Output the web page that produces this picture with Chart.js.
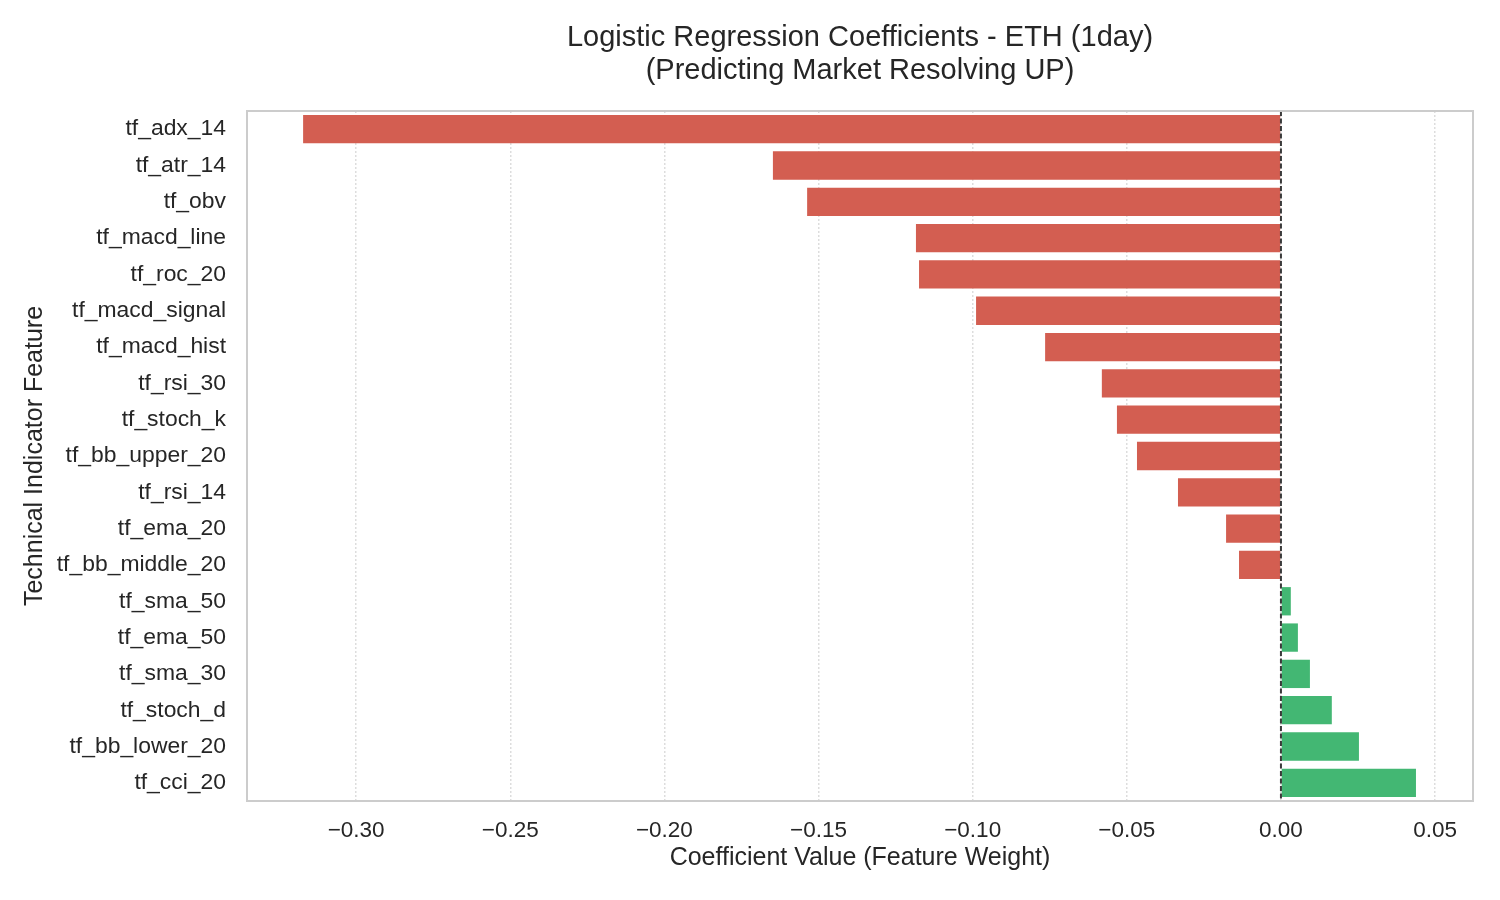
<!DOCTYPE html>
<html>
<head>
<meta charset="utf-8">
<script src="https://cdn.jsdelivr.net/npm/chart.js@4.4.1/dist/chart.umd.min.js"></script>
<style>
  html, body { margin: 0; padding: 0; background: #ffffff; }
  #wrap { width: 1500px; height: 900px; position: relative; }
</style>
</head>
<body>
<div id="wrap"><canvas id="coefChart"></canvas></div>
<script>
// feature names, top to bottom
var features = [
  'tf_adx_14', 'tf_atr_14', 'tf_obv', 'tf_macd_line', 'tf_roc_20',
  'tf_macd_signal', 'tf_macd_hist', 'tf_rsi_30', 'tf_stoch_k', 'tf_bb_upper_20',
  'tf_rsi_14', 'tf_ema_20', 'tf_bb_middle_20', 'tf_sma_50', 'tf_ema_50',
  'tf_sma_30', 'tf_stoch_d', 'tf_bb_lower_20', 'tf_cci_20'
];

// coefficients
var coefficients = [
  -0.3172, -0.1648, -0.1537, -0.1184, -0.1174,
  -0.0989, -0.0765, -0.0581, -0.0532, -0.0467,
  -0.0334, -0.0178, -0.0136, 0.0032, 0.0055,
  0.0094, 0.0165, 0.0253, 0.0438
];

var xTickValues = [-0.30, -0.25, -0.20, -0.15, -0.10, -0.05, 0.00, 0.05];
var xMin = -0.3354;
var xMax = 0.0623;

var titleLines = ['Logistic Regression Coefficients - ETH (1day)', '(Predicting Market Resolving UP)'];

var negColor = '#d35e51';
var posColor = '#43b773';
var textColor = '#262626';
var fontFamily = '"Liberation Sans", Arial, sans-serif';

var barColors = coefficients.map(function(v) { return v < 0 ? negColor : posColor; });

// title centred over the plot area (like matplotlib does)
var titlePlugin = {
  id: 'plotTitle',
  afterDraw: function(chart) {
    var ctx = chart.ctx;
    var area = chart.chartArea;
    var cx = (area.left + area.right) / 2;
    ctx.save();
    ctx.fillStyle = textColor;
    ctx.font = '29px ' + fontFamily;
    ctx.textAlign = 'center';
    ctx.textBaseline = 'middle';
    ctx.fillText(titleLines[0], cx, 38);
    ctx.fillText(titleLines[1], cx, 71);
    ctx.restore();
  }
};

// frame around the plot + dashed zero line
var framePlugin = {
  id: 'frame',
  afterDatasetsDraw: function(chart) {
    var ctx = chart.ctx;
    var area = chart.chartArea;
    var zx = chart.scales.x.getPixelForValue(0);

    ctx.save();
    ctx.strokeStyle = '#3a3a3a';
    ctx.lineWidth = 2;
    ctx.setLineDash([5, 2.5]);
    ctx.beginPath();
    ctx.moveTo(zx, area.top);
    ctx.lineTo(zx, area.bottom);
    ctx.stroke();

    ctx.setLineDash([]);
    ctx.strokeStyle = '#cccccc';
    ctx.lineWidth = 2;
    ctx.strokeRect(area.left, area.top, area.right - area.left, area.bottom - area.top);
    ctx.restore();
  }
};

var ctx = document.getElementById('coefChart');
var coefChart = new Chart(ctx, {
  type: 'bar',
  data: {
    labels: features,
    datasets: [{
      data: coefficients,
      backgroundColor: barColors,
      borderWidth: 0,
      barPercentage: 0.78,
      categoryPercentage: 1.0
    }]
  },
  options: {
    indexAxis: 'y',
    responsive: true,
    maintainAspectRatio: false,
    animation: false,
    layout: { padding: { left: 0, right: 27, top: 111, bottom: 0 } },
    plugins: {
      legend: { display: false },
      tooltip: { enabled: false },
      title: { display: false }
    },
    scales: {
      x: {
        type: 'linear',
        min: xMin,
        max: xMax,
        afterBuildTicks: function(scale) {
          scale.ticks = xTickValues.map(function(v) { return { value: v }; });
        },
        afterFit: function(scale) { scale.height = 99; },
        grid: {
          display: true,
          color: '#dddddd',
          lineWidth: 1.5,
          drawTicks: false
        },
        border: { display: false, dash: [2, 2] },
        ticks: {
          color: textColor,
          padding: 16,
          font: { family: fontFamily, size: 22.5 },
          callback: function(value) {
            return value.toFixed(2).replace('-', '\u2212');
          }
        },
        title: {
          display: true,
          text: 'Coefficient Value (Feature Weight)',
          color: textColor,
          font: { family: fontFamily, size: 25 },
          padding: { top: 0, bottom: 27 }
        }
      },
      y: {
        afterFit: function(scale) { scale.width = 247; },
        grid: { display: false, drawTicks: false },
        border: { display: false },
        ticks: {
          color: textColor,
          padding: 21,
          autoSkip: false,
          font: { family: fontFamily, size: 22.9 }
        },
        title: {
          display: true,
          text: 'Technical Indicator Feature',
          color: textColor,
          font: { family: fontFamily, size: 25 },
          padding: { top: 20, bottom: 0 }
        }
      }
    }
  },
  plugins: [framePlugin, titlePlugin]
});
</script>
</body>
</html>
